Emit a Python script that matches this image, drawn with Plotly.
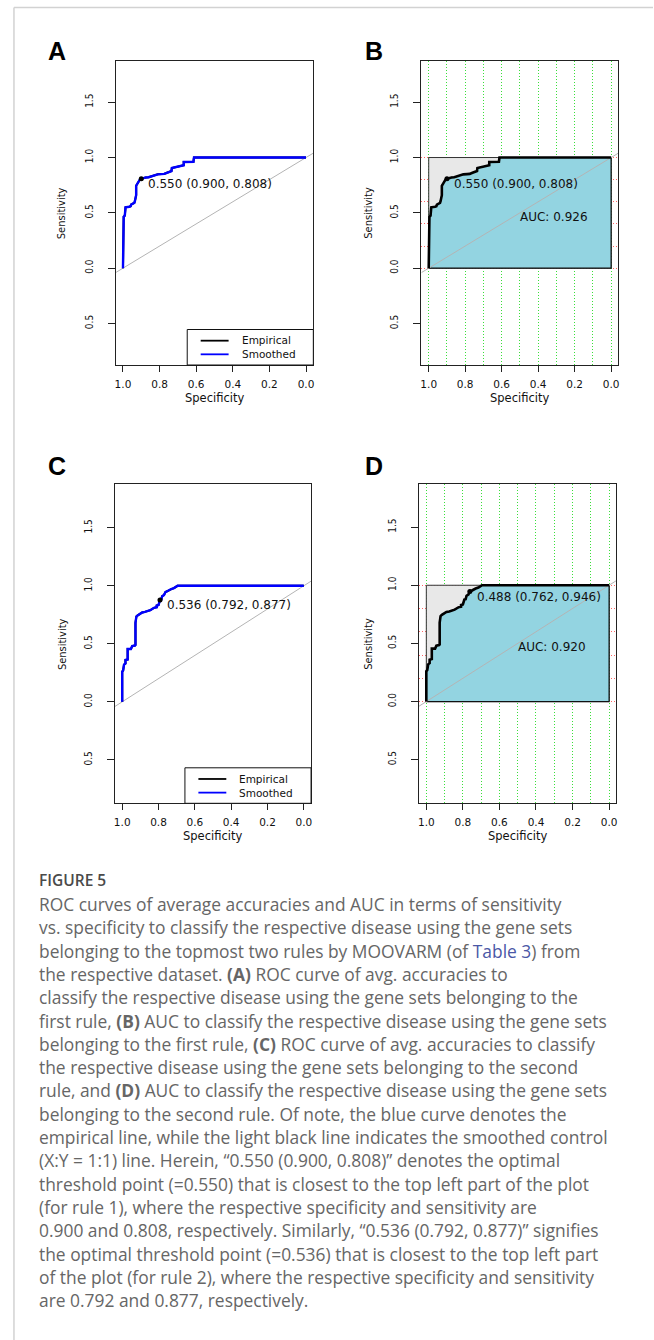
import plotly.graph_objects as go

W, H = 654, 1340

# ---------------- data ----------------
rule1_spec = [1.0, 1.0, 0.996, 0.996, 0.99, 0.99, 0.986, 0.986, 0.965, 0.958,
              0.955, 0.945, 0.938, 0.935, 0.933, 0.928, 0.928, 0.922, 0.915, 0.908,
              0.9, 0.89, 0.875, 0.86, 0.845, 0.83, 0.81, 0.79, 0.775, 0.76,
              0.745, 0.735, 0.733, 0.72, 0.705, 0.685, 0.672, 0.668, 0.668, 0.64,
              0.615, 0.612, 0.0]
rule1_sens = [0.0, 0.43, 0.44, 0.465, 0.475, 0.53, 0.54, 0.55, 0.555, 0.56,
              0.575, 0.585, 0.59, 0.605, 0.63, 0.66, 0.745, 0.765, 0.785, 0.80,
              0.808, 0.815, 0.82, 0.822, 0.83, 0.84, 0.848, 0.85, 0.852, 0.862,
              0.87, 0.878, 0.905, 0.91, 0.915, 0.92, 0.925, 0.93, 0.96, 0.962,
              0.962, 1.0, 1.0]

rule2_spec = [1.0, 1.0, 0.995, 0.99, 0.99, 0.982, 0.982, 0.97, 0.97, 0.952,
              0.945, 0.93, 0.927, 0.927, 0.922, 0.915, 0.905, 0.89, 0.875, 0.86,
              0.845, 0.835, 0.825, 0.81, 0.81, 0.8, 0.792, 0.785, 0.78, 0.77,
              0.765, 0.762, 0.75, 0.74, 0.73, 0.715, 0.705, 0.695, 0.0]
rule2_sens = [0.0, 0.26, 0.27, 0.30, 0.32, 0.33, 0.36, 0.365, 0.455, 0.455,
              0.48, 0.485, 0.49, 0.68, 0.735, 0.745, 0.755, 0.77, 0.775, 0.78,
              0.79, 0.80, 0.81, 0.815, 0.83, 0.835, 0.877, 0.88, 0.91, 0.92,
              0.935, 0.946, 0.955, 0.965, 0.972, 0.98, 0.99, 1.0, 1.0]

# threshold, specificity, sensitivity
rule1_threshold = [0.550, 0.900, 0.808]
rule2_threshold_c = [0.536, 0.792, 0.877]
rule2_threshold_d = [0.488, 0.762, 0.946]
auc_rule1 = 0.926
auc_rule2 = 0.920

x_tick_vals = [1.0, 0.8, 0.6, 0.4, 0.2, 0.0]
x_tick_text = ["1.0", "0.8", "0.6", "0.4", "0.2", "0.0"]
y_tick_vals = [-0.5, 0.0, 0.5, 1.0, 1.5]
y_tick_text = ["0.5", "0.0", "0.5", "1.0", "1.5"]
grid_x_minor = [0.9, 0.7, 0.5, 0.3, 0.1]
grid_y_vals = [0.0, 0.2, 0.4, 0.6, 0.8, 1.0]
legend_labels = ["Empirical", "Smoothed"]
panel_letters = ["A", "B", "C", "D"]

caption_title = "FIGURE 5"
caption_lines = [
    "ROC curves of average accuracies and AUC in terms of sensitivity",
    "vs. specificity to classify the respective disease using the gene sets",
    "belonging to the topmost two rules by MOOVARM (of <span style='color:#4a57a6'>Table 3</span>) from",
    "the respective dataset. <b>(A)</b> ROC curve of avg. accuracies to",
    "classify the respective disease using the gene sets belonging to the",
    "first rule, <b>(B)</b> AUC to classify the respective disease using the gene sets",
    "belonging to the first rule, <b>(C)</b> ROC curve of avg. accuracies to classify",
    "the respective disease using the gene sets belonging to the second",
    "rule, and <b>(D)</b> AUC to classify the respective disease using the gene sets",
    "belonging to the second rule. Of note, the blue curve denotes the",
    "empirical line, while the light black line indicates the smoothed control",
    "(X:Y = 1:1) line. Herein, \u201c0.550 (0.900, 0.808)\u201d denotes the optimal",
    "threshold point (=0.550) that is closest to the top left part of the plot",
    "(for rule 1), where the respective specificity and sensitivity are",
    "0.900 and 0.808, respectively. Similarly, \u201c0.536 (0.792, 0.877)\u201d signifies",
    "the optimal threshold point (=0.536) that is closest to the top left part",
    "of the plot (for rule 2), where the respective specificity and sensitivity",
    "are 0.792 and 0.877, respectively.",
]

# ---------------- layout geometry (pixels) ----------------
X_RANGE = [1.04, -0.04]
Y_RANGE = [-0.875, 1.875]
boxes = {  # left, right, top, bottom in page pixels
    "A": (115.0, 313.3, 60.7, 365.0),
    "B": (421.7, 619.3, 60.7, 365.0),
    "C": (114.3, 311.0, 484.3, 803.3),
    "D": (419.3, 617.3, 483.5, 803.3),
}
letter_pos = {"A": (56.5, 51.0), "B": (374.5, 51.0), "C": (56.5, 466.0), "D": (374.5, 466.0)}
ylab_x = {"A": 61.5, "B": 369.0, "C": 61.5, "D": 368.5}

TICK_FONT = dict(family="DejaVu Sans", size=10.5, color="#111111")
YTICK_FONT = dict(family="Liberation Sans Narrow, DejaVu Sans Condensed, Liberation Sans", size=10, color="#111111")
TEXT_FONT = dict(family="DejaVu Sans", size=12, color="#111111")
GRID_DASH = "1px,2px"


def px_x(p):
    return p / W


def px_y(p):
    return 1 - p / H


fig = go.Figure()
annotations = []
shapes = []

axis_ids = {"A": ("x", "y"), "B": ("x2", "y2"), "C": ("x3", "y3"), "D": ("x4", "y4")}

ident_x = list(X_RANGE)
ident_y = [1 - v for v in ident_x]

for key in panel_letters:
    xa, ya = axis_ids[key]
    left, right, top, bottom = boxes[key]
    auc_panel = key in ("B", "D")
    spec = rule1_spec if key in ("A", "B") else rule2_spec
    sens = rule1_sens if key in ("A", "B") else rule2_sens
    thr = {"A": rule1_threshold, "B": rule1_threshold,
           "C": rule2_threshold_c, "D": rule2_threshold_d}[key]

    if auc_panel:
        fig.add_trace(go.Scatter(x=[1, 1, 0, 0, 1], y=[0, 1, 1, 0, 0], mode="lines",
                                 fill="toself", fillcolor="#E8E8E8",
                                 line=dict(color="#333333", width=1),
                                 xaxis=xa, yaxis=ya, showlegend=False, hoverinfo="skip"))
        fig.add_trace(go.Scatter(x=spec + [0.0, 1.0], y=sens + [0.0, 0.0], mode="lines",
                                 fill="toself", fillcolor="#93D4E1",
                                 line=dict(color="#111111", width=1.2),
                                 xaxis=xa, yaxis=ya, showlegend=False, hoverinfo="skip"))
    fig.add_trace(go.Scatter(x=ident_x, y=ident_y, mode="lines",
                             line=dict(color="#B4B4B4", width=1),
                             xaxis=xa, yaxis=ya, showlegend=False, hoverinfo="skip"))
    if auc_panel:
        fig.add_trace(go.Scatter(x=spec, y=sens, mode="lines",
                                 line=dict(color="#000000", width=2.6),
                                 xaxis=xa, yaxis=ya, showlegend=False))
    else:
        fig.add_trace(go.Scatter(x=spec, y=sens, mode="lines", name=legend_labels[0],
                                 line=dict(color="#000000", width=2),
                                 xaxis=xa, yaxis=ya, showlegend=False))
        fig.add_trace(go.Scatter(x=spec, y=sens, mode="lines", name=legend_labels[1],
                                 line=dict(color="#0000FF", width=2.4),
                                 xaxis=xa, yaxis=ya, showlegend=False))
    fig.add_trace(go.Scatter(x=[thr[1]], y=[thr[2]], mode="markers",
                             marker=dict(color="#000000", size=5),
                             xaxis=xa, yaxis=ya, showlegend=False))
    annotations.append(dict(x=thr[1], y=thr[2], xref=xa, yref=ya,
                            text=f"{thr[0]:.3f} ({thr[1]:.3f}, {thr[2]:.3f})",
                            showarrow=False, xanchor="left", yanchor="middle",
                            xshift=5, yshift=-5, font=TEXT_FONT))
    if auc_panel:
        auc_val = auc_rule1 if key == "B" else auc_rule2
        annotations.append(dict(x=0.5, y=0.5, xref=xa, yref=ya,
                                text=f"AUC: {auc_val:.3f}", showarrow=False,
                                xanchor="left", yanchor="middle", xshift=-2, yshift=-4,
                                font=TEXT_FONT))

    # axes
    sfx = "" if xa == "x" else xa[1:]
    xaxis = dict(domain=[px_x(left), px_x(right)], range=X_RANGE, anchor=ya,
                 showline=True, mirror=True, linecolor="#222222", linewidth=1,
                 tickmode="array", tickvals=x_tick_vals, ticktext=x_tick_text,
                 ticks="outside", ticklen=6, tickcolor="#222222",
                 tickfont=TICK_FONT, ticklabelstandoff=3, zeroline=False,
                 showgrid=False, fixedrange=True)
    yaxis = dict(domain=[px_y(bottom), px_y(top)], range=Y_RANGE, anchor=xa,
                 showline=True, mirror=True, linecolor="#222222", linewidth=1,
                 tickmode="array", tickvals=y_tick_vals, ticktext=y_tick_text,
                 ticks="outside", ticklen=7, tickcolor="#222222", tickangle=-90,
                 tickfont=YTICK_FONT, ticklabelstandoff=11, zeroline=False,
                 showgrid=False, fixedrange=True)
    if auc_panel:
        grid_style = dict(showgrid=True, gridcolor="#3ADF3A", griddash=GRID_DASH, gridwidth=1)
        xaxis.update(grid_style)
        xaxis["minor"] = dict(tickmode="array", tickvals=grid_x_minor, ticks="", ticklen=0,
                              showgrid=True, gridcolor="#3ADF3A", griddash=GRID_DASH, gridwidth=1)
        yaxis["minor"] = dict(tickmode="array", tickvals=grid_y_vals, ticks="", ticklen=0,
                              showgrid=True, gridcolor="#FF6666", griddash=GRID_DASH, gridwidth=1)
    fig.layout["xaxis" + sfx] = xaxis
    fig.layout["yaxis" + sfx] = yaxis

    # axis titles
    annotations.append(dict(x=px_x((left + right) / 2), y=px_y(bottom + 33), xref="paper", yref="paper",
                            text="Specificity", showarrow=False, xanchor="center", yanchor="middle",
                            font=dict(family="DejaVu Sans", size=11.5, color="#111111")))
    annotations.append(dict(x=px_x(ylab_x[key]), y=px_y((top + bottom) / 2), xref="paper", yref="paper",
                            text="Sensitivity", showarrow=False, xanchor="center", yanchor="middle",
                            textangle=-90,
                            font=dict(family="Liberation Sans Narrow, DejaVu Sans Condensed, Liberation Sans",
                                      size=11, color="#111111")))
    # panel letter
    lx, ly = letter_pos[key]
    annotations.append(dict(x=px_x(lx), y=px_y(ly), xref="paper", yref="paper",
                            text=f"<b>{key}</b>", showarrow=False, xanchor="center", yanchor="middle",
                            font=dict(family="Liberation Sans", size=25, color="#000000")))

    # legend box for ROC panels (drawn relative to the plot box corner)
    if not auc_panel:
        shapes.append(dict(type="rect", xref="paper", yref="paper",
                           x0=px_x(right - 126.5), x1=px_x(right),
                           y0=px_y(bottom), y1=px_y(bottom - 35.5),
                           line=dict(color="#111111", width=1), fillcolor="white", layer="above"))
        leg_font = 10.5
        gap = leg_font * 1.3
        mid = bottom - 17.5
        for j, col in enumerate(["#000000", "#0000FF"]):
            yy = mid + (j - 0.5) * gap
            shapes.append(dict(type="line", xref="paper", yref="paper",
                               x0=px_x(right - 113), x1=px_x(right - 85),
                               y0=px_y(yy), y1=px_y(yy),
                               line=dict(color=col, width=1.8), layer="above"))
        annotations.append(dict(x=px_x(right - 74), y=px_y(mid), xref="paper", yref="paper",
                                text="<br>".join(legend_labels), showarrow=False,
                                xanchor="left", yanchor="middle", align="left",
                                font=dict(family="DejaVu Sans", size=leg_font, color="#111111")))

# page frame
shapes.append(dict(type="line", xref="paper", yref="paper", x0=px_x(13), x1=1,
                   y0=px_y(7.5), y1=px_y(7.5), line=dict(color="#D2D2D2", width=1.5)))
shapes.append(dict(type="line", xref="paper", yref="paper", x0=px_x(13), x1=px_x(13),
                   y0=px_y(7.5), y1=0, line=dict(color="#D2D2D2", width=1.5)))

# caption
CAP_X = 36
annotations.append(dict(x=px_x(CAP_X), y=px_y(880), xref="paper", yref="paper",
                        text=caption_title, showarrow=False, xanchor="left", yanchor="middle",
                        font=dict(family="Open Sans", size=15.5, color="#4a4a4a", weight=600)))
for i, line in enumerate(caption_lines):
    annotations.append(dict(x=px_x(CAP_X), y=px_y(904 + i * 23.3), xref="paper", yref="paper",
                            text=line, showarrow=False, xanchor="left", yanchor="middle",
                            font=dict(family="Open Sans", size=17.4, color="#666666", weight=400)))

fig.update_layout(width=W, height=H, autosize=False,
                  margin=dict(l=0, r=0, t=0, b=0),
                  paper_bgcolor="white", plot_bgcolor="white",
                  showlegend=False, annotations=annotations, shapes=shapes)

fig.write_html("out.html", config={"displayModeBar": False})
